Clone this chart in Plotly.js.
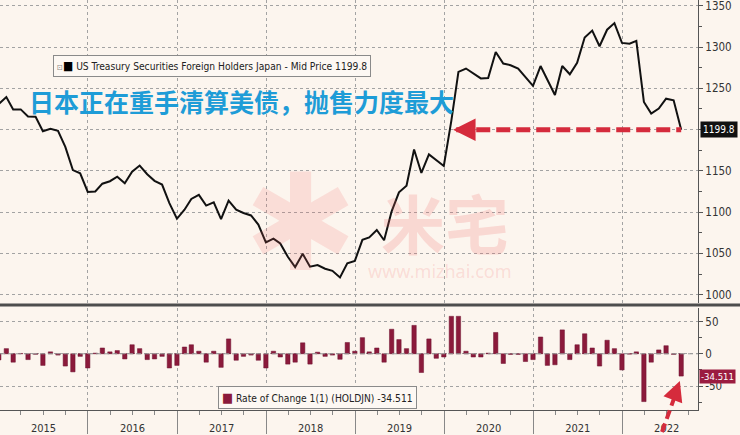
<!DOCTYPE html>
<html><head><meta charset="utf-8">
<script src="https://cdn.plot.ly/plotly-3.0.1.min.js"></script>
<style>html,body{margin:0;padding:0;background:#fcf5ee;}#chart{width:740px;height:435px;}</style>
</head><body><div id="chart"></div>
<script>
// Months (month-end observations)
const months = [
 '2014-12',
 '2015-01','2015-02','2015-03','2015-04','2015-05','2015-06','2015-07','2015-08','2015-09','2015-10','2015-11','2015-12',
 '2016-01','2016-02','2016-03','2016-04','2016-05','2016-06','2016-07','2016-08','2016-09','2016-10','2016-11','2016-12',
 '2017-01','2017-02','2017-03','2017-04','2017-05','2017-06','2017-07','2017-08','2017-09','2017-10','2017-11','2017-12',
 '2018-01','2018-02','2018-03','2018-04','2018-05','2018-06','2018-07','2018-08','2018-09','2018-10','2018-11','2018-12',
 '2019-01','2019-02','2019-03','2019-04','2019-05','2019-06','2019-07','2019-08','2019-09','2019-10','2019-11','2019-12',
 '2020-01','2020-02','2020-03','2020-04','2020-05','2020-06','2020-07','2020-08','2020-09','2020-10','2020-11','2020-12',
 '2021-01','2021-02','2021-03','2021-04','2021-05','2021-06','2021-07','2021-08','2021-09','2021-10','2021-11','2021-12',
 '2022-01','2022-02','2022-03','2022-04','2022-05','2022-06','2022-07','2022-08'
];
// US Treasury holdings of Japan (USD bn) - Mid Price
const holdings = [
 1231,
 1239.5,1224.5,1224.5,1216,1215.5,1198,1201,1198.5,1179,1151,1147,1124.5,
 1125,1134.5,1137.5,1143,1135,1149,1156.5,1146,1138,1133.5,1111,1092,
 1103,1116,1121,1108,1112,1091.5,1114,1103,1099,1096,1085,1063.5,
 1068,1062,1046,1033.5,1049.5,1034,1036,1031.5,1029,1021,1038,1041,
 1066.5,1069.5,1078.5,1066,1101,1124,1132,1176,1147.5,1170,1163,1156,
 1211,1270,1274,1268.5,1262,1262.5,1294,1280,1278,1274,1263.5,1253,
 1277,1260,1242,1277,1267,1281,1311.5,1320,1301,1321,1329,1305,
 1304,1307.5,1233.5,1219.5,1225.5,1237.5,1235.5,1199.8
];
// Rate of Change 1(1) (HOLDJN)
const changes = [
 -9.5,
 8,-13,0.5,-9,-0.8,-18,3,-2,-19,-28,-4,-22,
 1,9,3,5,-8,14,8,-9,-8,-4,-22,-18,
 10.5,14,4,-13,4,-21,23,-10,-4,-2,-10,-22,
 4,-5,-16,-13,17,-16,2.5,-4,-2,-8.5,17.5,4,
 25,3,9,-13,38,22,8,44,-29,23,-7,-5,
 58,58,4,-5,-5,1,33,-15,-1,-1,-12,-9,
 26,-18,-17,37,-9,14,31,9,-19,21,8,-25,
 -0.5,3,-74,-13,6,12.5,-1,-34.511
];
const lowerTickVals = [-50, 0, 50];
const lowerTickText = ['-50', '0', '50'];
const seriesName = 'US Treasury Securities Foreign Holders Japan - Mid Price';
const rocName = 'Rate of Change 1(1) (HOLDJN)';
const headline = '日本正在重手清算美债，抛售力度最大';

function monthEnd(m){const p=m.split('-').map(Number);return new Date(Date.UTC(p[0],p[1],0)).toISOString().slice(0,10);}
const dates = months.map(monthEnd);
const lastVal = holdings[holdings.length-1];
const lastChg = changes[changes.length-1];
const lastDate = dates[dates.length-1];

const NARROW = "'Liberation Sans Narrow','DejaVu Sans Condensed','Arial Narrow',sans-serif";
const BG = '#fcf5ee';
const GRID = '#a3a3a3';
const RED = '#d52b3c';
const BAR = '#8b1a3b';

const traces = [
 {x: dates, y: holdings, xaxis:'x', yaxis:'y', type:'scatter', mode:'lines',
  line:{color:'#111', width:2}, hoverinfo:'skip', showlegend:false},
 {x: dates, y: changes, xaxis:'x', yaxis:'y2', type:'bar', width: 1.55e9,
  marker:{color:BAR, line:{color:'#6e1230', width:0.5}}, hoverinfo:'skip', showlegend:false}
];

const layout = {
 width:740, height:435,
 margin:{l:0, r:42, t:0, b:25},
 paper_bgcolor:BG, plot_bgcolor:BG,
 showlegend:false,
 font:{family:NARROW, size:11, color:'#333'},
 bargap:0,
 xaxis:{
  type:'date', range:['2015-01-05','2022-11-08'], anchor:'y2',
  dtick:'M12', tick0:'2015-01-01', tickformat:'%Y', ticklabelmode:'period',
  ticks:'outside', ticklen:23, tickcolor:'#888', tickwidth:1,
  ticklabelstandoff:-15,
  tickfont:{family:NARROW, size:11, color:'#333'},
  showgrid:true, gridcolor:GRID, griddash:'dot', gridwidth:1,
  showline:true, linecolor:'#555', linewidth:1, zeroline:false,
  minor:{dtick:'M3', tick0:'2015-01-01', ticks:'outside', ticklen:4, tickcolor:'#888', showgrid:false}
 },
 yaxis:{
  domain:[0.261, 1], anchor:'x', side:'right', range:[990, 1357],
  tick0:1000, dtick:50, ticks:'outside', ticklen:4, tickcolor:'#555',
  ticklabeloverflow:'allow',
  tickfont:{family:NARROW, size:11.5, color:'#333'},
  showgrid:true, gridcolor:GRID, griddash:'dot', gridwidth:1,
  showline:true, linecolor:'#555', linewidth:1, zeroline:false,
  minor:{dtick:25, tick0:1000, ticks:'outside', ticklen:3, tickcolor:'#555', showgrid:false}
 },
 yaxis2:{
  domain:[0, 0.249], anchor:'x', side:'right', range:[-87, 71],
  tickvals:lowerTickVals, ticktext:lowerTickText,
  ticks:'outside', ticklen:4, tickcolor:'#555',
  ticklabeloverflow:'allow',
  tickfont:{family:NARROW, size:11.5, color:'#333'},
  showgrid:true, gridcolor:GRID, griddash:'dot', gridwidth:1,
  showline:true, linecolor:'#555', linewidth:1, zeroline:false,
  minor:{dtick:25, tick0:0, ticks:'outside', ticklen:3, tickcolor:'#555', showgrid:false}
 },
 shapes:[
  {type:'line', xref:'paper', yref:'paper', x0:0, x1:1.07, y0:0.2561, y1:0.2561, line:{color:'#4d4d4d', width:3}},
  {type:'line', xref:'paper', yref:'y2', x0:0, x1:1, y0:0, y1:0, line:{color:'#999', width:1, dash:'5px,3px'}},
  {type:'line', xref:'x', yref:'y', x0:'2020-02-20', x1:lastDate, y0:lastVal, y1:lastVal, line:{color:RED, width:5, dash:'14px,6px'}},
  {type:'line', xref:'paper', yref:'paper', x0:0.9484, y0:-0.0537, x1:0.9685, y1:0.0415, line:{color:RED, width:4, dash:'9px,5px'}}
 ],
 annotations:[
  // watermark
  {xref:'paper', yref:'paper', x:0.43, y:0.455, text:'✱', showarrow:false, font:{family:'DejaVu Sans', size:135, color:'rgba(240,100,100,0.16)'}},
  {xref:'paper', yref:'paper', x:0.6375, y:0.462, text:'<b>米宅</b>', showarrow:false, font:{family:'Noto Sans CJK SC', size:64, color:'rgba(240,100,100,0.2)'}},
  {xref:'paper', yref:'paper', x:0.63, y:0.338, text:'www.mizhai.com', showarrow:false, font:{family:'Noto Sans', size:18, color:'rgba(240,100,100,0.18)'}},
  // legend top
  {xref:'paper', yref:'paper', x:0.0759, y:0.839, xanchor:'left', yanchor:'middle', showarrow:false,
   text:'<span style="color:#888;font-size:8px">⊡</span><span style="color:#000;font-size:12px">■</span> '+seriesName+' '+lastVal.toFixed(1),
   font:{family:NARROW, size:10.2, color:'#222'}, bgcolor:'#fdf8f3', bordercolor:'#8a8a8a', borderwidth:1, borderpad:3},
  // headline
  {xref:'paper', yref:'paper', x:0.0387, y:0.7537, xanchor:'left', yanchor:'middle', showarrow:false,
   text:'<b>'+headline+'</b>', font:{family:'Noto Sans CJK SC', size:25, color:'#1e9cd7'}},
  // legend bottom
  {xref:'paper', yref:'paper', x:0.3123, y:0.03, xanchor:'left', yanchor:'middle', showarrow:false,
   text:'<span style="color:'+BAR+';font-size:13px">■</span> '+rocName+' '+lastChg.toFixed(3),
   font:{family:NARROW, size:10.2, color:'#222'}, bgcolor:'#fdf8f3', bordercolor:'#8a8a8a', borderwidth:1, borderpad:3},
  // value tags
  {xref:'paper', yref:'y', x:1, xshift:2, y:lastVal, xanchor:'left', yanchor:'middle', showarrow:false,
   text:lastVal.toFixed(1), bgcolor:'#111', font:{family:NARROW, size:10, color:'#fff'}, borderpad:2},
  {xref:'paper', yref:'y2', x:1, xshift:1, y:lastChg, xanchor:'left', yanchor:'middle', showarrow:false,
   text:lastChg.toFixed(3), bgcolor:'#9b1c40', font:{family:NARROW, size:9.5, color:'#fff'}, borderpad:1},
  // arrow heads
  {xref:'x', yref:'y', x:'2020-02-07', y:lastVal, ax:22, ay:0, text:'', showarrow:true,
   arrowhead:2, arrowsize:0.9, arrowwidth:5, arrowcolor:RED},
  {xref:'paper', yref:'paper', x:0.974, y:0.0707, ax:-6, ay:16, text:'', showarrow:true,
   arrowhead:2, arrowsize:1, arrowwidth:4, arrowcolor:RED}
 ]
};

Plotly.newPlot('chart', traces, layout, {displayModeBar:false, staticPlot:true});
</script>
</body></html>
